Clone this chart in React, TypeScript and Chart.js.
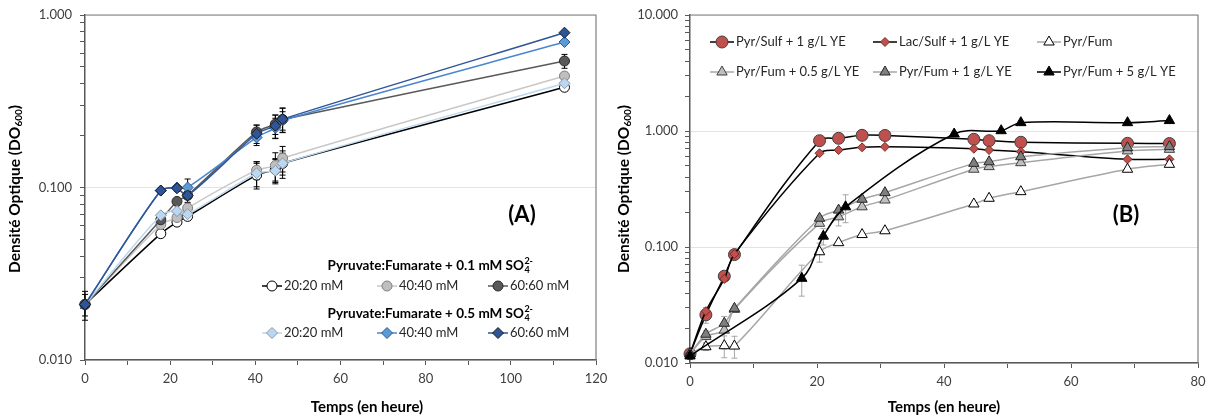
import React, { useEffect, useRef } from 'react';
import { Chart, registerables } from 'chart.js';
Chart.register(...registerables);

// ---------- Chart A data ----------
const TIME_A = [0, 17.8, 21.6, 24.1, 40.3, 44.7, 46.4, 112.6];
const A01_20 = [0.021, 0.054, 0.063, 0.068, 0.118, 0.127, 0.138, 0.381];
const A01_40 = [0.021, 0.061, 0.067, 0.076, 0.126, 0.134, 0.148, 0.443];
const A01_60 = [0.021, 0.065, 0.083, 0.09, 0.21, 0.233, 0.248, 0.541];
const A05_20 = [0.021, 0.069, 0.073, 0.07, 0.121, 0.125, 0.138, 0.402];
const A05_40 = [0.021, 0.096, 0.1, 0.1, 0.195, 0.222, 0.245, 0.697];
const A05_60 = [0.021, 0.096, 0.099, 0.09, 0.205, 0.228, 0.249, 0.79];
const ERR_A01_20 = [0.003, 0, 0, 0, 0.02, 0.02, 0.02, 0.01];
const ERR_A01_40 = [0, 0, 0, 0.006, 0.015, 0.025, 0.025, 0.02];
const ERR_A01_60 = [0, 0, 0, 0, 0.02, 0.03, 0.04, 0.05];
const ERR_A05_20 = [0, 0, 0, 0.005, 0.02, 0.02, 0.025, 0];
const ERR_A05_40 = [0, 0, 0, 0.012, 0.02, 0.03, 0.03, 0];
const ERR_A05_60 = [0.004, 0, 0.004, 0.01, 0.025, 0.035, 0.04, 0];
const Y_TICKS_A = [0.01, 0.02, 0.03, 0.04, 0.05, 0.06, 0.07, 0.08, 0.09, 0.1, 0.2, 0.3, 0.4, 0.5, 0.6, 0.7, 0.8, 0.9, 1];
const LEGEND_A_TITLES = ['Pyruvate:Fumarate + 0.1 mM SO', 'Pyruvate:Fumarate + 0.5 mM SO'];
const LEGEND_A_LABELS = ['20:20 mM', '40:40 mM', '60:60 mM'];

// ---------- Chart B data ----------
const TIME_B = [0, 2.5, 5.4, 7.0, 20.4, 23.4, 27.1, 30.7, 44.7, 47.1, 52.1, 68.9, 75.5];
const TIME_B5 = [0, 17.6, 21.0, 24.5, 41.6, 49.0, 52.1, 68.9, 75.5];
const PYR_SULF = [0.012, 0.026, 0.056, 0.086, 0.825, 0.865, 0.918, 0.915, 0.848, 0.825, 0.8, 0.783, 0.78];
const LAC_SULF = [0.012, 0.028, 0.053, 0.087, 0.643, 0.685, 0.723, 0.73, 0.703, 0.685, 0.664, 0.57, 0.57];
const PYR_FUM = [0.012, 0.0138, 0.0141, 0.014, 0.091, 0.109, 0.128, 0.138, 0.235, 0.263, 0.3, 0.468, 0.516];
const PYR_FUM_05 = [0.012, 0.0169, 0.0192, 0.029, 0.16, 0.182, 0.222, 0.254, 0.468, 0.493, 0.533, 0.673, 0.695];
const PYR_FUM_1 = [0.012, 0.0177, 0.022, 0.0296, 0.177, 0.208, 0.258, 0.294, 0.526, 0.543, 0.6, 0.718, 0.733];
const PYR_FUM_5 = [0.0115, 0.0537, 0.124, 0.222, 0.942, 1.006, 1.18, 1.18, 1.23];
const ERR_PS = [0, 0.004, 0, 0, 0, 0, 0, 0, 0, 0, 0, 0, 0];
const ERR_LS = [0, 0, 0, 0, 0, 0, 0, 0, 0, 0, 0, 0, 0];
const ERR_PF = [0, 0.001, 0.003, 0.003, 0.017, 0, 0, 0, 0, 0, 0, 0, 0];
const ERR_PF05 = [0, 0.002, 0.006, 0, 0, 0.03, 0, 0, 0, 0, 0, 0, 0];
const ERR_PF1 = [0, 0, 0, 0, 0, 0, 0, 0, 0, 0, 0, 0, 0];
const ERR_PF5 = [0, 0.016, 0.02, 0.06, 0, 0, 0, 0, 0];
const Y_TICKS_B = [0.01, 0.02, 0.03, 0.04, 0.05, 0.06, 0.07, 0.08, 0.09, 0.1, 0.2, 0.3, 0.4, 0.5, 0.6, 0.7, 0.8, 0.9, 1, 2, 3, 4, 5, 6, 7, 8, 9, 10];
const LEGEND_B_LABELS = ['Pyr/Sulf + 1 g/L YE', 'Lac/Sulf + 1 g/L YE', 'Pyr/Fum', 'Pyr/Fum + 0.5 g/L YE', 'Pyr/Fum + 1 g/L YE', 'Pyr/Fum + 5 g/L YE'];

const FONT = 'Lato';

type Sty = { style: 'circle' | 'rectRot' | 'triangle'; r: number; fill: string; stroke: string; line: string };

const STY_A: Sty[] = [
  { style: 'circle', r: 5, fill: '#FFFFFF', stroke: '#000000', line: '#000000' },
  { style: 'circle', r: 5, fill: '#BFBFBF', stroke: '#7F7F7F', line: '#C8C8C8' },
  { style: 'circle', r: 5, fill: '#595959', stroke: '#262626', line: '#595959' },
  { style: 'rectRot', r: 5.5, fill: '#BDD7EE', stroke: '#8497B0', line: '#BDD7EE' },
  { style: 'rectRot', r: 5.5, fill: '#5B9BD5', stroke: '#2F5597', line: '#4A86D0' },
  { style: 'rectRot', r: 5.5, fill: '#2F5597', stroke: '#1A1A1A', line: '#2F5597' },
];
const STY_B: Sty[] = [
  { style: 'circle', r: 6, fill: '#C0504D', stroke: '#404040', line: '#000000' },
  { style: 'rectRot', r: 4.5, fill: '#C0504D', stroke: '#7B2C2A', line: '#000000' },
  { style: 'triangle', r: 6, fill: '#FFFFFF', stroke: '#000000', line: '#A6A6A6' },
  { style: 'triangle', r: 6, fill: '#BFBFBF', stroke: '#404040', line: '#A6A6A6' },
  { style: 'triangle', r: 6, fill: '#7F7F7F', stroke: '#262626', line: '#A6A6A6' },
  { style: 'triangle', r: 6, fill: '#000000', stroke: '#000000', line: '#000000' },
];

const isDecade = (v: number) => {
  const l = Math.log10(v);
  return Math.abs(l - Math.round(l)) < 1e-9;
};

function drawMarker(ctx: CanvasRenderingContext2D, s: Sty, x: number, y: number) {
  const r = s.r;
  ctx.save();
  ctx.beginPath();
  if (s.style === 'circle') ctx.arc(x, y, r, 0, Math.PI * 2);
  else if (s.style === 'rectRot') {
    ctx.moveTo(x - r, y); ctx.lineTo(x, y - r); ctx.lineTo(x + r, y); ctx.lineTo(x, y + r); ctx.closePath();
  } else {
    let a = 0;
    ctx.moveTo(x + Math.sin(a) * r, y - Math.cos(a) * r);
    a += (2 * Math.PI) / 3;
    ctx.lineTo(x + Math.sin(a) * r, y - Math.cos(a) * r);
    a += (2 * Math.PI) / 3;
    ctx.lineTo(x + Math.sin(a) * r, y - Math.cos(a) * r);
    ctx.closePath();
  }
  ctx.fillStyle = s.fill; ctx.fill();
  ctx.strokeStyle = s.stroke; ctx.lineWidth = 1; ctx.stroke();
  ctx.restore();
}

function legendItem(ctx: CanvasRenderingContext2D, s: Sty, label: string, mx: number, y: number, half: number) {
  ctx.save();
  ctx.strokeStyle = s.line; ctx.lineWidth = 1.5;
  ctx.beginPath(); ctx.moveTo(mx - half, y); ctx.lineTo(mx + half, y); ctx.stroke();
  drawMarker(ctx, s, mx, y);
  ctx.fillStyle = '#262626';
  ctx.font = `13px ${FONT}`;
  ctx.textBaseline = 'middle';
  ctx.textAlign = 'left';
  ctx.fillText(label, mx + half + 2, y);
  ctx.restore();
}

function drawYTitle(ctx: CanvasRenderingContext2D, cx: number, cy: number) {
  const parts: [string, string, number][] = [
    ['Densité Optique (DO', `bold 15.5px ${FONT}`, 0],
    ['600', `bold 10px ${FONT}`, 2],
    [')', `bold 15.5px ${FONT}`, 0],
  ];
  ctx.save();
  ctx.translate(cx, cy);
  ctx.rotate(-Math.PI / 2);
  let total = 0;
  for (const p of parts) { ctx.font = p[1]; total += ctx.measureText(p[0]).width; }
  let x = -total / 2;
  ctx.fillStyle = '#000000';
  ctx.textBaseline = 'alphabetic';
  ctx.textAlign = 'left';
  for (const p of parts) {
    ctx.font = p[1];
    ctx.fillText(p[0], x, 5 + p[2]);
    x += ctx.measureText(p[0]).width;
  }
  ctx.restore();
}

function drawXTitle(ctx: CanvasRenderingContext2D, cx: number, cy: number) {
  ctx.save();
  ctx.font = `bold 15px ${FONT}`;
  ctx.fillStyle = '#000000';
  ctx.textAlign = 'center';
  ctx.textBaseline = 'middle';
  ctx.fillText('Temps (en heure)', cx, cy);
  ctx.restore();
}

function drawFrame(chart: any) {
  const { ctx, chartArea: a } = chart;
  ctx.save();
  ctx.strokeStyle = '#7F7F7F';
  ctx.lineWidth = 1.2;
  ctx.beginPath();
  ctx.moveTo(a.left, a.top); ctx.lineTo(a.right, a.top); ctx.lineTo(a.right, a.bottom);
  ctx.stroke();
  ctx.restore();
}

function drawPanelLabel(ctx: CanvasRenderingContext2D, text: string, cx: number, cy: number) {
  ctx.save();
  ctx.font = `bold 22px ${FONT}`;
  ctx.fillStyle = '#000000';
  ctx.textAlign = 'center';
  ctx.textBaseline = 'middle';
  ctx.fillText(text, cx, cy);
  ctx.restore();
}

function drawGroupTitle(ctx: CanvasRenderingContext2D, text: string, cx: number, cy: number) {
  const mainFont = `bold 13.5px ${FONT}`;
  const smallFont = `bold 9px ${FONT}`;
  ctx.save();
  ctx.fillStyle = '#000000';
  ctx.textBaseline = 'alphabetic';
  ctx.textAlign = 'left';
  ctx.font = mainFont;
  const w0 = ctx.measureText(text).width;
  ctx.font = smallFont;
  const w1 = ctx.measureText('4').width;
  const w2 = ctx.measureText('2-').width;
  const total = w0 + Math.max(w1, w2);
  const x = cx - total / 2;
  ctx.font = mainFont;
  ctx.fillText(text, x, cy + 4.5);
  ctx.font = smallFont;
  ctx.fillText('4', x + w0 + 0.5, cy + 4.5 + 3);
  ctx.fillText('2-', x + w0 + 0.5, cy + 4.5 - 6);
  ctx.restore();
}

const errorBarPlugin = {
  id: 'errbars',
  beforeDatasetsDraw(chart: any) {
    const ctx = chart.ctx;
    const yS = chart.scales.y;
    chart.data.datasets.forEach((ds: any, i: number) => {
      const errs: number[] = ds.errors;
      if (!errs) return;
      const meta = chart.getDatasetMeta(i);
      ctx.save();
      ctx.strokeStyle = ds.errorColor;
      ctx.lineWidth = 1;
      meta.data.forEach((pt: any, j: number) => {
        const e = errs[j];
        if (!e) return;
        const v = ds.data[j].y;
        const y1 = yS.getPixelForValue(v + e);
        const y2 = yS.getPixelForValue(Math.max(v - e, 1e-4));
        const x = pt.x;
        ctx.beginPath();
        ctx.moveTo(x, y1); ctx.lineTo(x, y2);
        ctx.moveTo(x - 3, y1); ctx.lineTo(x + 3, y1);
        ctx.moveTo(x - 3, y2); ctx.lineTo(x + 3, y2);
        ctx.stroke();
      });
      ctx.restore();
    });
  },
};

const decorA = {
  id: 'decorA',
  afterDraw(chart: any) {
    const ctx = chart.ctx;
    drawFrame(chart);
    drawYTitle(ctx, 15, 189);
    drawXTitle(ctx, 367, 407);
    drawPanelLabel(ctx, '(A)', 522, 215);
    const mxs = [272, 387, 498];
    const titleY = [265, 313];
    const rowY = [286, 333];
    for (let g = 0; g < 2; g++) {
      drawGroupTitle(ctx, LEGEND_A_TITLES[g], 430, titleY[g]);
      for (let k = 0; k < 3; k++) legendItem(ctx, STY_A[g * 3 + k], LEGEND_A_LABELS[k], mxs[k], rowY[g], 10);
    }
  },
};

const decorB = {
  id: 'decorB',
  afterDraw(chart: any) {
    const ctx = chart.ctx;
    drawFrame(chart);
    drawYTitle(ctx, 19, 189);
    drawXTitle(ctx, 339, 407);
    drawPanelLabel(ctx, '(B)', 521, 215);
    const mxs = [117, 280, 444];
    const rowY = [42, 72];
    for (let k = 0; k < 6; k++) legendItem(ctx, STY_B[k], LEGEND_B_LABELS[k], mxs[k % 3], rowY[Math.floor(k / 3)], 12);
  },
};

function mkDataset(label: string, xs: number[], ys: number[], errs: number[], s: Sty, idx: number, errColor: string, tension: number) {
  return {
    label,
    data: xs.map((x, i) => ({ x, y: ys[i] })),
    errors: errs,
    errorColor: errColor,
    borderColor: s.line,
    borderWidth: 1.5,
    pointStyle: s.style,
    pointRadius: s.r,
    pointBackgroundColor: s.fill,
    pointBorderColor: s.stroke,
    pointBorderWidth: 1,
    tension,
    clip: false,
    order: -idx,
    fill: false,
  };
}

function axes(xMax: number, yMin: number, yMax: number, yTicks: number[], yWidth: number, xHeight: number, yPad: number) {
  const tickFont = { family: FONT, size: 13 };
  return {
    x: {
      type: 'linear',
      min: 0,
      max: xMax,
      ticks: {
        stepSize: 10,
        autoSkip: false,
        maxRotation: 0,
        padding: 6,
        color: '#404040',
        font: tickFont,
        callback: (v: any) => (Number(v) % 20 === 0 ? String(v) : ''),
      },
      grid: { drawOnChartArea: false, tickLength: 5, tickColor: '#595959', color: '#595959' },
      border: { color: '#595959', width: 1.5 },
      afterFit: (s: any) => { s.height = xHeight; s.paddingLeft = 0; s.paddingRight = 0; },
    },
    y: {
      type: 'logarithmic',
      min: yMin,
      max: yMax,
      afterBuildTicks: (s: any) => { s.ticks = yTicks.map((value) => ({ value })); },
      ticks: {
        autoSkip: false,
        padding: yPad,
        color: '#404040',
        font: tickFont,
        callback: (v: any) => (isDecade(Number(v)) ? Number(v).toFixed(3) : ''),
      },
      grid: {
        color: (c: any) => (c.tick && isDecade(c.tick.value) ? '#E3E3E3' : 'rgba(0,0,0,0)'),
        tickLength: 5,
        tickColor: '#595959',
      },
      border: { color: '#595959', width: 1.5 },
      afterFit: (s: any) => { s.width = yWidth; s.paddingTop = 0; s.paddingBottom = 0; },
    },
  };
}

export default function App() {
  const refA = useRef<HTMLCanvasElement>(null);
  const refB = useRef<HTMLCanvasElement>(null);

  useEffect(() => {
    const seriesA: [number[], number[]][] = [
      [A01_20, ERR_A01_20], [A01_40, ERR_A01_40], [A01_60, ERR_A01_60],
      [A05_20, ERR_A05_20], [A05_40, ERR_A05_40], [A05_60, ERR_A05_60],
    ];
    const labelsA = ['0.1 mM 20:20', '0.1 mM 40:40', '0.1 mM 60:60', '0.5 mM 20:20', '0.5 mM 40:40', '0.5 mM 60:60'];
    const chartA = new Chart(refA.current as HTMLCanvasElement, {
      type: 'line',
      data: {
        datasets: seriesA.map(([ys, es], i) => mkDataset(labelsA[i], TIME_A, ys, es, STY_A[i], i, '#000000', 0.25)) as any,
      },
      options: {
        responsive: false,
        animation: false,
        layout: { padding: { left: 0, right: 24, top: 15, bottom: 0 } },
        plugins: { legend: { display: false }, tooltip: { enabled: false } },
        scales: axes(120, 0.01, 1, Y_TICKS_A, 85, 57, 8) as any,
      },
      plugins: [errorBarPlugin, decorA],
    });

    const seriesB: [number[], number[], number[]][] = [
      [TIME_B, PYR_SULF, ERR_PS], [TIME_B, LAC_SULF, ERR_LS], [TIME_B, PYR_FUM, ERR_PF],
      [TIME_B, PYR_FUM_05, ERR_PF05], [TIME_B, PYR_FUM_1, ERR_PF1], [TIME_B5, PYR_FUM_5, ERR_PF5],
    ];
    const chartB = new Chart(refB.current as HTMLCanvasElement, {
      type: 'line',
      data: {
        datasets: seriesB.map(([xs, ys, es], i) => mkDataset(LEGEND_B_LABELS[i], xs, ys, es, STY_B[i], i, '#A6A6A6', 0.35)) as any,
      },
      options: {
        responsive: false,
        animation: false,
        layout: { padding: { left: 0, right: 13, top: 15, bottom: 0 } },
        plugins: { legend: { display: false }, tooltip: { enabled: false } },
        scales: axes(80, 0.01, 10, Y_TICKS_B, 85, 54, 7) as any,
      },
      plugins: [errorBarPlugin, decorB],
    });

    return () => { chartA.destroy(); chartB.destroy(); };
  }, []);

  return (
    <div style={{ position: 'absolute', left: 0, top: 0, width: 1211, height: 417, background: '#ffffff' }}>
      <canvas ref={refA} width={620} height={417} style={{ position: 'absolute', left: 0, top: 0, width: 620, height: 417 }} />
      <canvas ref={refB} width={606} height={417} style={{ position: 'absolute', left: 605, top: 0, width: 606, height: 417 }} />
    </div>
  );
}
